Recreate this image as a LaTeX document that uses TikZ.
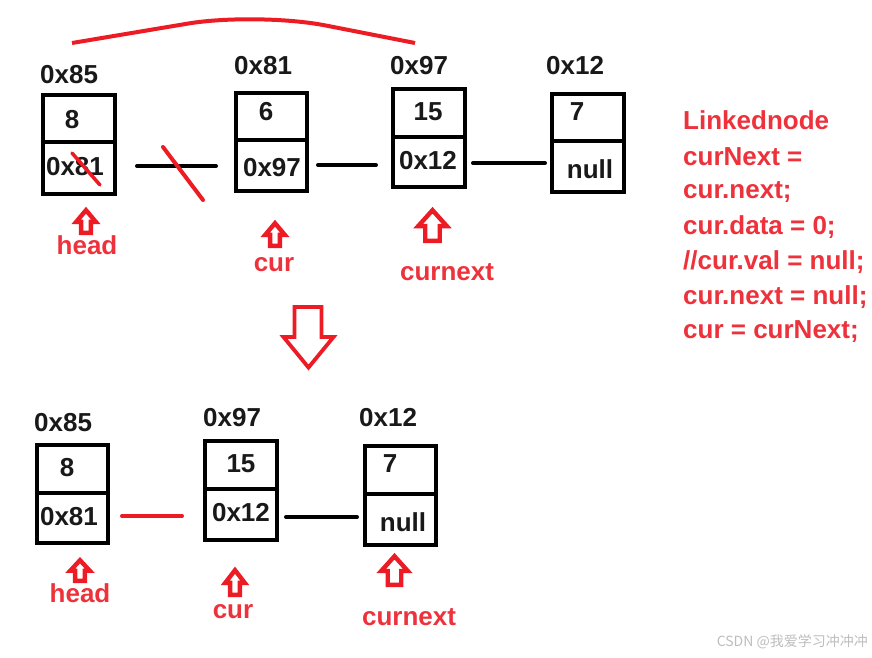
\documentclass[tikz,border=0pt]{standalone}
\usepackage{fontspec}
\setmainfont{Liberation Sans}
\newfontfamily\cjkfont{Noto Sans CJK SC}
\definecolor{pred}{RGB}{237,28,36}
\definecolor{tred}{RGB}{238,50,60}
\definecolor{wm}{RGB}{190,190,190}
% name, cx, top, bottom, width (outer extents)
\newcommand{\uparr}[5]{%
  \draw[arr] (#2,#3+3.2) -- (#2+0.5*#5-3.2,#3+0.53*#4-0.53*#3) -- (#2+0.27*#5-2.2,#3+0.53*#4-0.53*#3)
     -- (#2+0.27*#5-2.2,#4-2.2) -- (#2-0.27*#5+2.2,#4-2.2) -- (#2-0.27*#5+2.2,#3+0.53*#4-0.53*#3)
     -- (#2-0.5*#5+3.2,#3+0.53*#4-0.53*#3) -- cycle;
  \coordinate (#1) at (#2,#3);}
\begin{document}
\begin{tikzpicture}[x=1pt,y=-1pt,
  cellbox/.style={draw=black,line width=4pt,inner sep=0pt},
  divline/.style={draw=black,line width=4pt},
  conn/.style={draw=black,line width=4pt,line cap=round},
  rconn/.style={draw=pred,line width=4pt,line cap=round},
  arr/.style={draw=pred,line width=4.4pt,line join=miter},
  bigarr/.style={draw=pred,line width=3.8pt,line join=miter},
  addr/.style={font=\bfseries\fontsize{26}{26}\selectfont,text=black!90,anchor=west,inner sep=0pt},
  val/.style={font=\bfseries\fontsize{26}{26}\selectfont,text=black!90,inner sep=0pt},
  ptr/.style={font=\bfseries\fontsize{26}{26}\selectfont,text=tred,inner sep=0pt},
  code/.style={font=\bfseries\fontsize{26}{26}\selectfont,text=tred,anchor=west,inner sep=0pt}]
\useasboundingbox[fill=white] (0,0) rectangle (872,657);

% ---------- top row ----------
\node[cellbox,minimum width=72pt,minimum height=99pt] (n1) at (79,144.5) {};
\node[cellbox,minimum width=71pt,minimum height=98pt] (n2) at (271.5,142) {};
\node[cellbox,minimum width=72pt,minimum height=98pt] (n3) at (429,138) {};
\node[cellbox,minimum width=72pt,minimum height=98pt] (n4) at (588,143) {};
\draw[divline] (n1.west |- 0,142) -- (n1.east |- 0,142);
\draw[divline] (n2.west |- 0,140) -- (n2.east |- 0,140);
\draw[divline] (n3.west |- 0,137) -- (n3.east |- 0,137);
\draw[divline] (n4.west |- 0,141) -- (n4.east |- 0,141);

\node[addr] (a1) at (40,75) {0x85};
\node[addr] (a2) at (234,66) {0x81};
\node[addr] (a3) at (390,66) {0x97};
\node[addr] (a4) at (546,66) {0x12};

\node[val] (v1) at (72,120) {8};
\node[val] (p1) at (75,167) {0x81};
\node[val] (v2) at (266,112) {6};
\node[val] (p2) at (272,168) {0x97};
\node[val] (v3) at (428,112) {15};
\node[val] (p3) at (428,161) {0x12};
\node[val] (v4) at (577,112) {7};
\node[val] (p4) at (590,169) {null};

\coordinate (x1a) at (72,153);
\coordinate (x1b) at (100,185);
\draw[pred,line width=3.5pt,line cap=round] (x1a) -- (x1b);

\draw[conn,shorten <=20pt,shorten >=18pt] (n1.east |- 0,166) -- (n2.west |- 0,166);
\draw[conn,shorten <=9pt,shorten >=15pt] (n2.east |- 0,165) -- (n3.west |- 0,165);
\draw[conn,shorten <=6pt,shorten >=5pt] (n3.east |- 0,163) -- (n4.west |- 0,163);
\coordinate (s1) at (163,147);
\coordinate (s2) at (203,200);
\draw[pred,line width=4pt,line cap=round] (s1) -- (s2);

% top arc
\coordinate (arcL) at (72,43);
\coordinate (arcT) at (257,12);
\coordinate (arcR) at (415,43);
\draw[pred,line width=4pt,rounded corners=70pt] (arcL) -- (arcT) -- (arcR);

% pointers top
\uparr{h1}{86}{207}{235}{26}
\uparr{c1}{275}{220}{248}{26}
\uparr{x1}{432.5}{207}{243}{35}
\node[ptr] (t1) at (87,245) {head};
\node[ptr] (t2) at (274,265) {cur};
\node[ptr] (t3) at (447,272) {curnext};

% code
\node[code] (k1) at (683,120) {Linkednode};
\node[code] (k2) at (683,157) {curNext =};
\node[code] (k3) at (683,192) {cur.next;};
\node[code] (k4) at (683,227) {cur.data = 0;};
\node[code] (k5) at (683,262) {//cur.val = null;};
\node[code] (k6) at (683,297) {cur.next = null;};
\node[code] (k7) at (683,332) {cur = curNext;};

% big arrow
\draw[bigarr] (294.5,307) -- (321.5,307) -- (321.5,337) -- (333.5,337) -- (308.5,367.5) -- (283.5,337) -- (294.5,337) -- cycle;
\coordinate (big) at (308.5,337);

% ---------- bottom row ----------
\node[cellbox,minimum width=71pt,minimum height=98pt] (b1) at (72.5,494) {};
\node[cellbox,minimum width=72pt,minimum height=99pt] (b2) at (241,490.5) {};
\node[cellbox,minimum width=71pt,minimum height=99pt] (b3) at (400.5,495.5) {};
\draw[divline] (b1.west |- 0,493) -- (b1.east |- 0,493);
\draw[divline] (b2.west |- 0,489) -- (b2.east |- 0,489);
\draw[divline] (b3.west |- 0,494) -- (b3.east |- 0,494);

\node[addr] (ba1) at (34,423) {0x85};
\node[addr] (ba2) at (203,418) {0x97};
\node[addr] (ba3) at (359,418) {0x12};

\node[val] (bv1) at (67,468) {8};
\node[val] (bp1) at (69,517) {0x81};
\node[val] (bv2) at (241,464) {15};
\node[val] (bp2) at (241,513) {0x12};
\node[val] (bv3) at (390,464) {7};
\node[val] (bp3) at (403,522) {null};

\draw[rconn,shorten <=12pt,shorten >=21pt] (b1.east |- 0,516) -- (b2.west |- 0,516);
\draw[conn,shorten <=7pt,shorten >=6pt] (b2.east |- 0,517) -- (b3.west |- 0,517);

\uparr{h2}{80}{557}{583}{26}
\uparr{c2}{235}{567}{597}{26}
\uparr{x2}{394.5}{553}{587}{33}
\node[ptr] (bt1) at (80,593) {head};
\node[ptr] (bt2) at (233,612) {cur};
\node[ptr] (bt3) at (409,617) {curnext};

% watermark
\node[anchor=east,inner sep=0pt,text=wm,font=\cjkfont\fontsize{14}{14}\selectfont] (wmk) at (868,642) {CSDN @我爱学习冲冲冲};
\end{tikzpicture}
\end{document}
